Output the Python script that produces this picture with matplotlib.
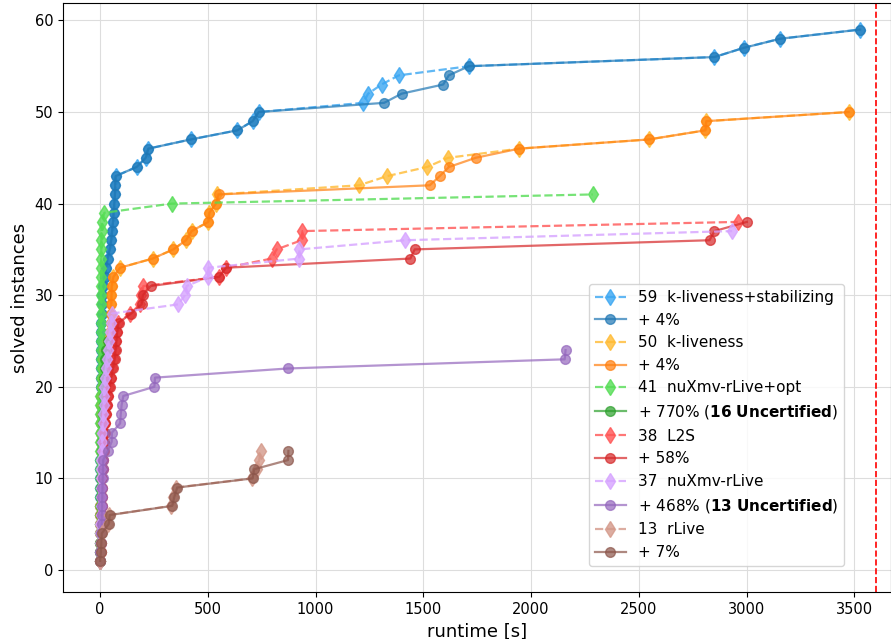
from matplotlib import pyplot as plt

TIMEOUT = 3600  # s

# k-liveness+stabilizing (59) and certified version
kls_plain = [0.2, 0.3, 0.4, 0.5, 0.6, 0.8, 1.0, 1.1, 1.3, 1.5, 1.7, 2.0, 2.2, 2.4,
             2.6, 2.8, 3.0, 3.2, 3.4, 3.6, 3.8, 4.0, 4.3, 4.6, 5.0, 5.5, 6.0, 7.0,
             8.0, 10, 15, 22, 28, 35, 45, 52, 56, 60, 63, 66, 69, 70, 72, 170, 212,
             224, 420, 637, 708, 736, 1221, 1244, 1306, 1386, 1711, 2851, 2986,
             3156, 3527]
kls_cert = [0.2, 0.3, 0.4, 0.5, 0.6, 0.8, 1.0, 1.1, 1.3, 1.5, 1.7, 2.0, 2.2, 2.4,
            2.6, 2.8, 3.0, 3.2, 3.4, 3.6, 3.8, 4.0, 4.3, 4.6, 5.0, 5.5, 6.0, 7.0,
            8.0, 10, 15, 22, 28, 35, 45, 52, 56, 60, 63, 66, 69, 70, 72, 170, 212,
            224, 420, 637, 708, 736, 1318, 1399, 1592, 1618, 1711, 2851, 2986,
            3156, 3527]

# k-liveness (50)
kl_plain = [0.5, 0.7, 0.9, 1.1, 1.3, 1.6, 1.9, 2.2, 2.5, 2.8, 3.1, 3.4, 3.7, 4.0,
            4.4, 4.8, 5.2, 5.6, 6.0, 8, 10, 12, 14, 16, 30, 48, 50, 51, 52, 53,
            54, 62, 93, 244, 340, 399, 425, 502, 507, 538, 543, 1202, 1332, 1518,
            1615, 1944, 2545, 2809, 2813, 3474]
kl_cert = [0.5, 0.7, 0.9, 1.1, 1.3, 1.6, 1.9, 2.2, 2.5, 2.8, 3.1, 3.4, 3.7, 4.0,
           4.4, 4.8, 5.2, 5.6, 6.0, 8, 10, 12, 14, 16, 30, 48, 50, 51, 52, 53,
           54, 62, 93, 244, 340, 399, 425, 502, 507, 538, 550, 1530, 1576, 1619,
           1743, 1944, 2545, 2809, 2813, 3474]

# nuXmv-rLive+opt (41), 25 certified
nxo_plain = [0.2, 0.3, 0.4, 0.5, 0.6, 0.7, 0.8, 0.9, 1.0, 1.1, 1.2, 1.3, 1.4, 1.5,
             1.6, 1.7, 1.8, 1.9, 2.0, 2.1, 2.2, 2.3, 2.4, 2.5, 2.6, 2.7, 2.8, 2.9,
             3.0, 3.2, 4.0, 4.5, 5.0, 5.5, 6.0, 6.5, 7.0, 8.0, 20, 332, 2286]
nxo_cert = [1.0, 1.5, 2.0, 2.5, 3.0, 3.5, 4.0, 4.5, 5.0, 6.0, 7.0, 8.0, 9, 10, 12,
            14, 15, 16, 17, 18, 19, 22, 25, 29, 37]

# L2S (38)
l2s_plain = [1.5, 2.5, 3.5, 4.5, 5.5, 6.5, 7.5, 8.5, 9.5, 10.5, 11.5, 13, 15, 17,
             20, 24, 28, 32, 35, 42, 50, 57, 65, 70, 74, 78, 84, 140, 185, 190,
             201, 553, 584, 796, 819, 935, 939, 2959]
l2s_cert = [2, 3, 4, 5, 6, 7, 8, 9, 10, 11, 12, 14, 16, 18, 21, 25, 29, 34, 37, 45,
            52, 60, 68, 72, 76, 80, 86, 145, 193, 199, 235, 553, 584, 1440, 1460,
            2828, 2851, 3001]

# nuXmv-rLive (37), 24 certified
nx_plain = [0.5, 0.8, 1.1, 1.4, 1.8, 2.2, 2.6, 3.0, 3.5, 4.0, 5, 6, 7, 8, 10, 12,
            14, 16, 18, 20, 22, 26, 30, 35, 40, 45, 50, 55, 363, 394, 402, 502,
            503, 924, 925, 1414, 2933]
nx_cert = [1, 2, 3, 5, 7, 8, 9, 10, 11, 12, 13, 14, 36, 54, 55, 93, 96, 100, 108,
           252, 255, 872, 2156, 2160]

# rLive (13)
rl_plain = [0.5, 3.5, 5.5, 7.5, 38, 43, 330, 340, 352, 705, 730, 738, 745]
rl_cert = [0.5, 4, 6, 8, 40, 45, 335, 345, 358, 708, 715, 872, 874]

series = [
    (kls_plain, kls_cert, "59  k-liveness+stabilizing", "+ 4%",
     "#3aa6f2", "tab:blue"),
    (kl_plain, kl_cert, "50  k-liveness", "+ 4%",
     "#ffbb33", "tab:orange"),
    (nxo_plain, nxo_cert, "41  nuXmv-rLive+opt",
     r"+ 770% ($\bf{16\ Uncertified}$)", "#55dd55", "tab:green"),
    (l2s_plain, l2s_cert, "38  L2S", "+ 58%",
     "#ff5555", "tab:red"),
    (nx_plain, nx_cert, "37  nuXmv-rLive",
     r"+ 468% ($\bf{13\ Uncertified}$)", "#d6a3ff", "tab:purple"),
    (rl_plain, rl_cert, "13  rLive", "+ 7%",
     "#d4998a", "tab:brown"),
]

fig = plt.figure(figsize=(8.91, 6.39), dpi=100)
ax = fig.add_axes([0.0707, 0.0736, 0.9293, 0.9217])

for plain, cert, lab_plain, lab_cert, c_plain, c_cert in series:
    ax.plot(plain, range(1, len(plain) + 1), "--d", color=c_plain, alpha=0.8,
            markersize=8, linewidth=1.6, label=lab_plain)
    ax.plot(cert, range(1, len(cert) + 1), "-o", color=c_cert, alpha=0.7,
            markersize=7, linewidth=1.6, label=lab_cert)

ax.axvline(TIMEOUT, color="red", linestyle="--", linewidth=1.2)

ax.set_xlim(-172, 3670)
ax.set_ylim(-2.4, 61.9)
ax.set_xticks(range(0, 3501, 500))
ax.set_yticks(range(0, 61, 10))
ax.tick_params(labelsize=10.5)
ax.grid(True, color="#dddddd", linewidth=0.8)
ax.set_xlabel("runtime [s]", fontsize=13)
ax.set_ylabel("solved instances", fontsize=13)
ax.legend(loc="lower right", fontsize=11, bbox_to_anchor=(0.953, 0.031),
          borderaxespad=0.5)

fig.savefig("out.png")
